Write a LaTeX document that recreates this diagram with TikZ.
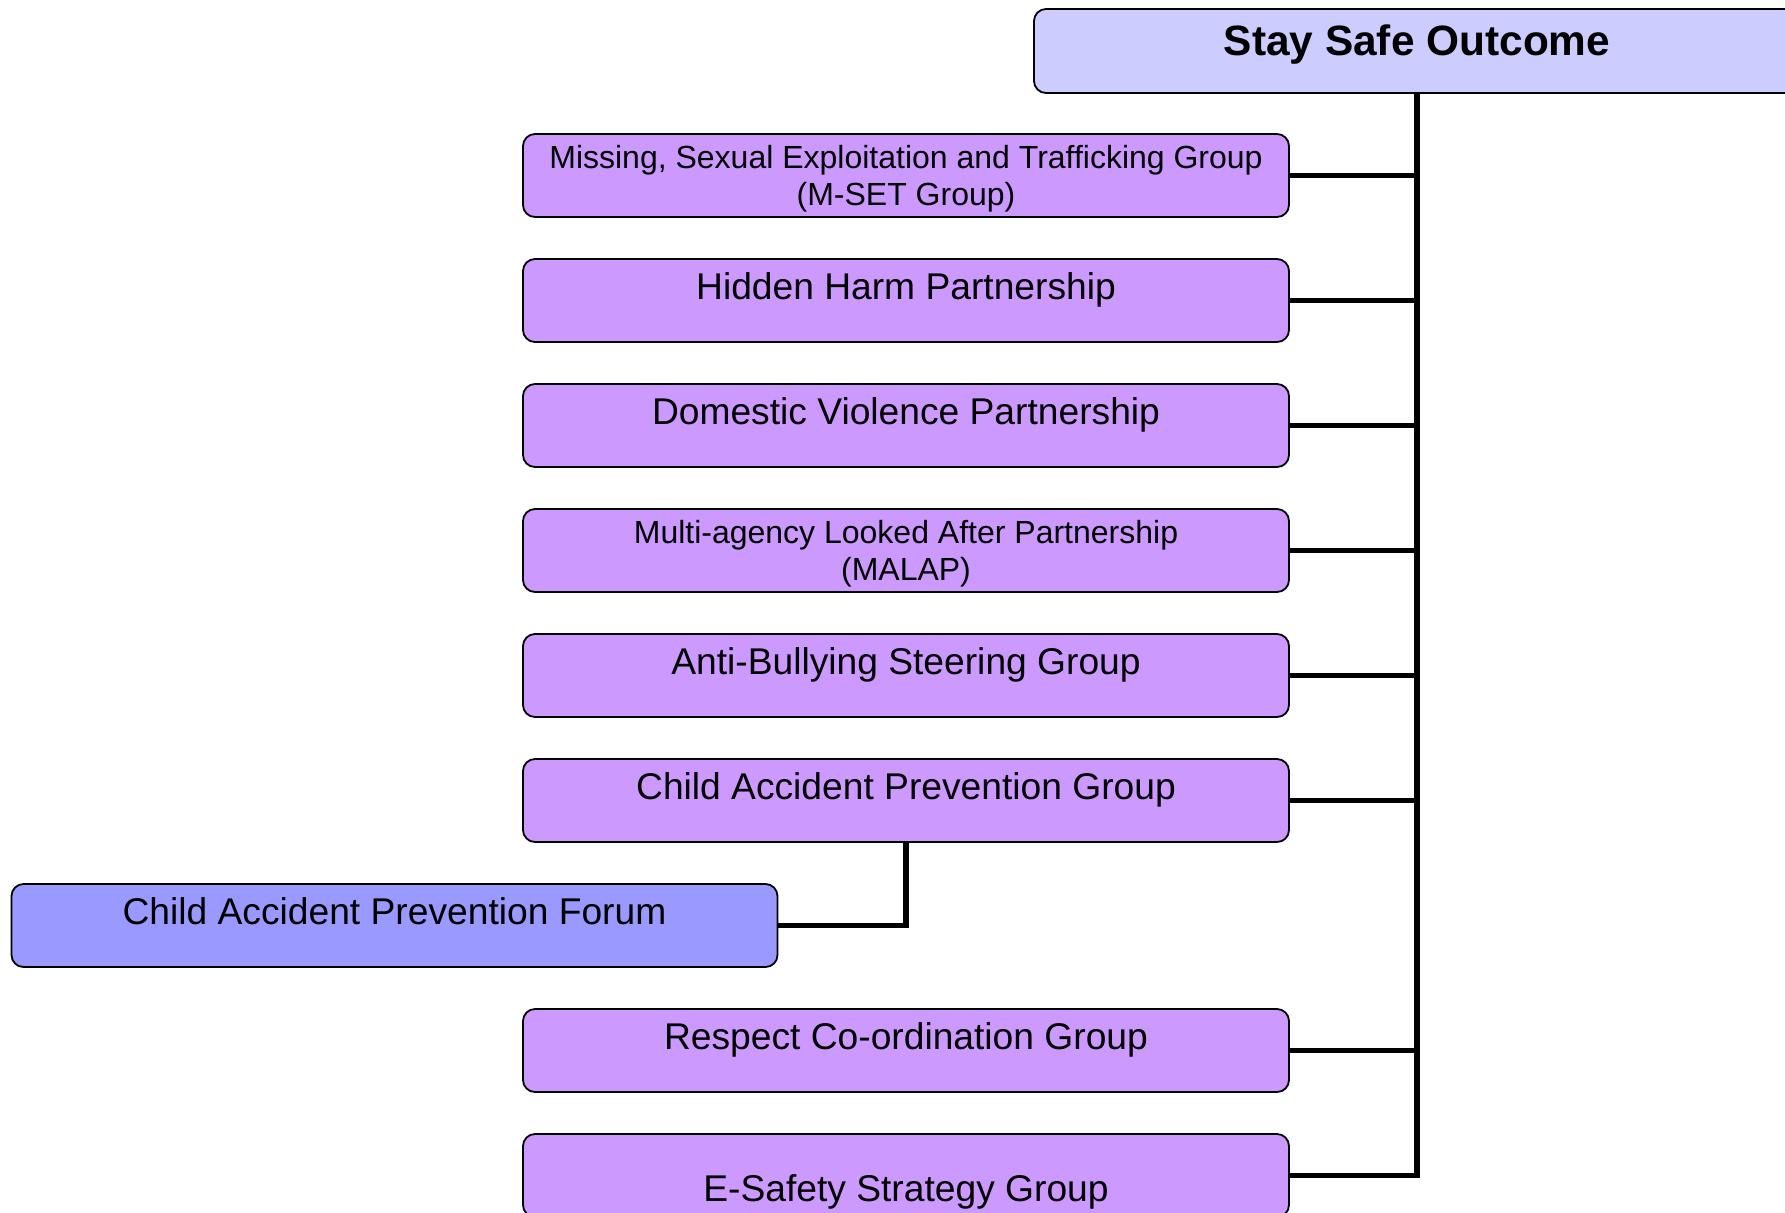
\documentclass[tikz,border=0pt]{standalone}
\usepackage{fontspec}
\setmainfont{Liberation Sans}
\definecolor{outcomefill}{HTML}{CCCCFF}
\definecolor{groupfill}{HTML}{CC99FF}
\definecolor{forumfill}{HTML}{9999FF}
\begin{document}
\begin{tikzpicture}[x=0.5pt,y=-0.5pt,
  box/.style={draw=black, line width=0.9pt, rounded corners=6pt,
    minimum width=383pt, minimum height=41.5pt, inner sep=0pt, fill=groupfill},
  bigtxt/.style={anchor=base, inner sep=0pt, font=\fontsize{18.6}{21}\selectfont},
  smalltxt/.style={anchor=center, inner sep=0pt, align=center,
    font=\fontsize{16}{18.5}\selectfont},
  titletxt/.style={anchor=base, inner sep=0pt, font=\fontsize{21.2}{24}\selectfont\bfseries},
  link/.style={draw=black, line width=2.9pt}]
\useasboundingbox (0,0) rectangle (1785,1212);
\clip (0,0) rectangle (1785,1212);

% outcome box (runs past the right edge)
\node[box, fill=outcomefill, minimum height=42pt] (outcome) at (1417,51) {};
\node[titletxt] (outcome-t) at (1417,55) {Stay Safe Outcome};

% sub-groups
\node[box] (mset)   at (906,175.5)  {};
\node[box] (hidden) at (906,300.5)  {};
\node[box] (dv)     at (906,425.5)  {};
\node[box] (malap)  at (906,550.5)  {};
\node[box] (bully)  at (906,675.5)  {};
\node[box] (capg)   at (906,800.5)  {};
\node[box, fill=forumfill] (forum) at (394.5,925.5) {};
\node[box] (respect) at (906,1050.5) {};
\node[box] (esafe)   at (906,1175.5) {};

\node[smalltxt] (mset-t) at (906,179) {Missing, Sexual Exploitation and Trafficking Group\\(M-SET Group)};
\node[bigtxt] (hidden-t) at (906,299) {Hidden Harm Partnership};
\node[bigtxt] (dv-t) at (906,424) {Domestic Violence Partnership};
\node[smalltxt] (malap-t) at (906,554) {Multi-agency Looked After Partnership\\(MALAP)};
\node[bigtxt] (bully-t) at (906,674) {Anti-Bullying Steering Group};
\node[bigtxt] (capg-t) at (906,799) {Child Accident Prevention Group};
\node[bigtxt] (forum-t) at (394.5,924) {Child Accident Prevention Forum};
\node[bigtxt] (respect-t) at (906,1049) {Respect Co-ordination Group};
\node[bigtxt] (esafe-t) at (906,1201) {E-Safety Strategy Group};

% connectors
\draw[link] (outcome.south) |- (esafe.east);
\foreach \n in {mset,hidden,dv,malap,bully,capg,respect}
  \draw[link] (\n.east) -- (\n.east -| outcome.south);
\draw[link] (capg.south) |- (forum.east);
\end{tikzpicture}
\end{document}
